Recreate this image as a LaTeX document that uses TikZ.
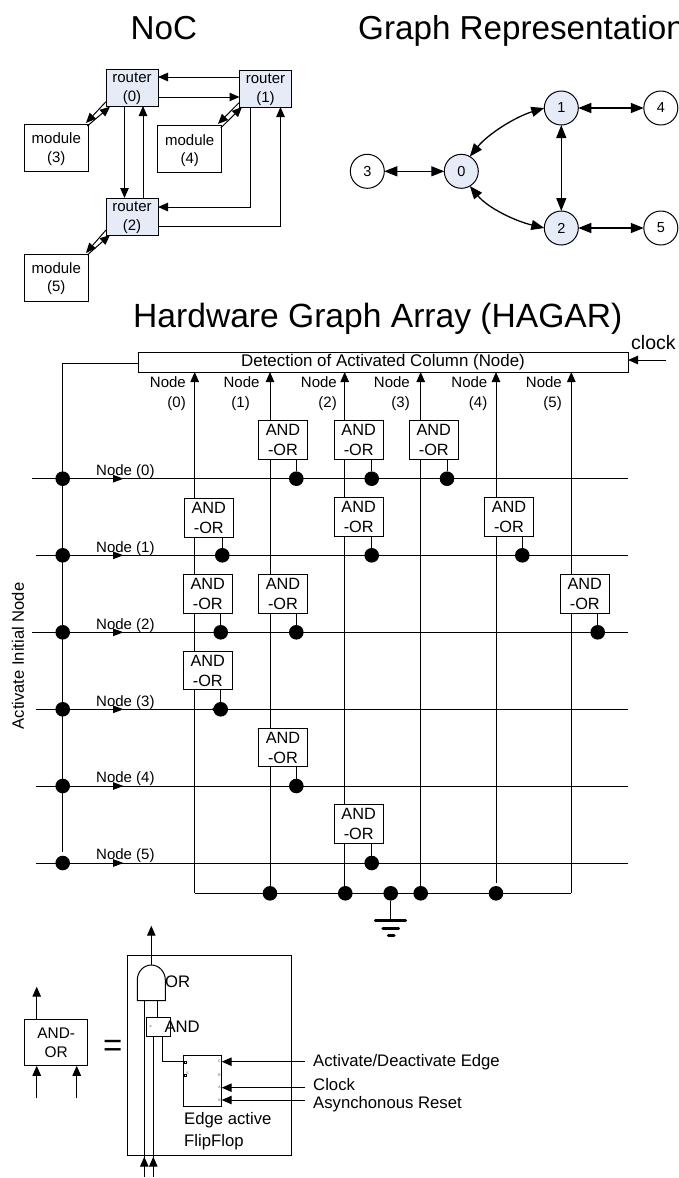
\documentclass[tikz,border=0pt]{standalone}
\usepackage{fontspec}
\setmainfont{Liberation Sans}
\usetikzlibrary{arrows.meta}
\definecolor{rfill}{HTML}{E6ECF7}
\newcommand{\fs}[1]{\fontsize{#1}{#1}\selectfont}
\tikzset{
  x=1pt,y=-1pt,
  wire/.style={line width=1pt,line cap=butt},
  arr/.style={wire,-{Triangle[length=10pt,width=8.5pt]}},
  barr/.style={wire,{Triangle[length=10pt,width=8.5pt]}-{Triangle[length=10pt,width=8.5pt]}},
  garr/.style={line width=1.3pt,{Triangle[length=13pt,width=10pt]}-{Triangle[length=13pt,width=10pt]}},
  boxn/.style={draw,line width=1pt,inner sep=0pt,outer sep=0pt,align=center},
  router/.style={boxn,fill=rfill,minimum width=52pt,minimum height=37pt,font=\fontsize{15}{18.6}\selectfont},
  module/.style={boxn,fill=white,minimum width=63.5pt,minimum height=47pt,font=\fontsize{15}{18.4}\selectfont},
  gnode/.style={draw,circle,line width=1pt,inner sep=0pt,outer sep=0pt,minimum size=34pt,font=\fs{14.5}},
  gblue/.style={gnode,fill=rfill},
  aobox/.style={boxn,fill=white,minimum width=49pt,minimum height=38.5pt,font=\fontsize{16.3}{20}\selectfont},
  jdot/.style={circle,fill=black,inner sep=0pt,outer sep=0pt,minimum size=14.6pt},
  title/.style={anchor=base west,inner sep=0pt,font=\fs{33.2}},
  lab/.style={inner sep=0pt,font=\fs{15}},
  leg/.style={inner sep=0pt,font=\fs{16.7}},
  tinyl/.style={inner sep=0pt,text=black!70,font=\fs{3.5}},
}
\begin{document}
\begin{tikzpicture}
\useasboundingbox (0,0) rectangle (678,1178);
% titles
\node[title] (tnoc) at (130.5,39) {NoC};
\node[title] (tgraph) at (358,39) {Graph Representation};
\node[title,font=\fs{33.6}] (thw) at (133,327.3) {Hardware Graph Array (HAGAR)};
% NoC
\node[router] (r0) at (132,87.5) {};
\node[router] (r1) at (265.5,88.5) {};
\node[router] (r2) at (132,216.5) {};
\node[module] (m3) at (56.3,147.7) {};
\node[module] (m4) at (189.7,149.3) {};
\node[module] (m5) at (56.3,277.5) {};
\node[lab,align=center,font=\fontsize{15}{18.6}\selectfont] (r0t) at (132,89) {router\\(0)};
\node[lab,align=center,font=\fontsize{15}{18.6}\selectfont] (r1t) at (265.5,90) {router\\(1)};
\node[lab,align=center,font=\fontsize{15}{18.6}\selectfont] (r2t) at (132,218) {router\\(2)};
\node[lab,align=center,font=\fontsize{15}{18.4}\selectfont] (m3t) at (56.3,149) {module\\(3)};
\node[lab,align=center,font=\fontsize{15}{18.4}\selectfont] (m4t) at (189.7,150.6) {module\\(4)};
\node[lab,align=center,font=\fontsize{15}{18.4}\selectfont] (m5t) at (56.3,278.8) {module\\(5)};
\draw[arr] (r1.west |- 0,77) -- (r0.east |- 0,77);
\draw[arr] (r0.east |- 0,97) -- (r1.west |- 0,97);
\draw[arr] (124.5,0 |- r0.south) -- (124.5,0 |- r2.north);
\draw[arr] (143,0 |- r2.north) -- (143,0 |- r0.south);
\draw[arr] (250.5,0 |- r1.south) |- (r2.east |- 0,207);
\draw[arr] (r2.east |- 0,226) -| (280.5,0 |- r1.south);
\coordinate (a03) at (106,101.7); \coordinate (a30) at (86,123);
\coordinate (b30) at (87.3,126); \coordinate (b03) at (110,106.7);
\draw[arr] (a03) -- (a30); \draw[arr] (b30) -- (b03);
\coordinate (a14) at (239,102.7); \coordinate (a41) at (218,124);
\coordinate (b41) at (220.7,128); \coordinate (b14) at (242,107);
\draw[arr] (a14) -- (a41); \draw[arr] (b41) -- (b14);
\coordinate (a25) at (106,230); \coordinate (a52) at (86,253);
\coordinate (b52) at (87.3,255); \coordinate (b25) at (110,235);
\draw[arr] (a25) -- (a52); \draw[arr] (b52) -- (b25);
% graph
\node[gblue] (n0) at (461.3,171.3) {0};
\node[gblue] (n1) at (561.3,108) {1};
\node[gblue] (n2) at (561.3,228) {2};
\node[gnode] (n3) at (367.3,171.3) {3};
\node[gnode] (n4) at (660.8,108) {4};
\node[gnode] (n5) at (660.8,228) {5};
\draw[garr] (n3) -- (n0);
\draw[garr] (n1) -- (n4);
\draw[garr] (n2) -- (n5);
\draw[garr] (n1) -- (n2);
\draw[garr] (n1.180) .. controls (515,117) and (488,134) .. (n0.60);
\draw[garr] (n2.180) .. controls (515,221) and (488,208) .. (n0.-60);
% detection block
\node[boxn,fill=white,minimum width=490pt,minimum height=20pt,font=\fs{16.9}] (det) at (383,362) {Detection of Activated Column (Node)};
\node[inner sep=0pt,anchor=west,font=\fs{19.5}] (clk) at (631,342.5) {clock};
\coordinate (clks) at (666.3,360);
\draw[arr] (clks) -- (det.east |- clks);
% horizontal wires
\foreach \k/\yy/\xs in {0/478.7/32,1/555.3/36,2/632.3/32,3/709.3/36,4/786/36,5/863/36}{
  \coordinate (hl\k) at (\xs,\yy);
  \coordinate (hm\k) at (123.5,\yy);
  \coordinate (hr\k) at (628,\yy);
  \draw[wire] (hl\k) -- (hr\k);
  \draw[wire,-{Triangle[length=10.5pt,width=7.5pt]}] (hl\k) -- (hm\k);
}
\foreach \k/\yy in {0/475.4,1/552.4,2/629.4,3/706.7,4/782.4,5/859.4}{
  \node[lab,anchor=base west] (hn\k) at (96,\yy) {Node (\k)};
}
% columns
\foreach \k/\xx in {0/194.7,1/270,2/344.7,3/420.7,4/496,5/571.3}{
  \coordinate (cb\k) at (\xx,893.3);
  \coordinate (ce\k) at (\xx,893.3);
}
\coordinate (ce4) at (496,882.7);
\foreach \k in {0,1,2,3,4,5}{ \draw[arr] (ce\k) -- (ce\k |- det.south); }
\draw[wire] (cb0) -- (cb5);
\foreach \k/\xn/\xp in {0/186/186,1/259.7/250,2/337/337,3/410/410,4/487.5/487.5,5/562/562}{
  \node[lab,anchor=base east] (cn\k) at (\xn,387) {Node};
  \node[lab,anchor=base east] (cp\k) at (\xp,407) {(\k)};
}
% activate column
\node[jdot] (v0) at (62.7,478.7) {};
\node[jdot] (v1) at (62.7,555.3) {};
\node[jdot] (v2) at (62.7,632.3) {};
\node[jdot] (v3) at (62.7,709.3) {};
\node[jdot] (v4) at (62.7,786) {};
\node[jdot] (v5) at (62.7,863) {};
\coordinate (vend) at (62.7,852);
\draw[wire] (det.west |- 0,363.5) -| (vend);
\node[inner sep=0pt,rotate=90,font=\fs{16.6}] (act) at (18,656) {Activate Initial Node};
% bottom joints and ground
\node[jdot] (j1) at (270,893.3) {};
\node[jdot] (j2) at (345.3,893.3) {};
\node[jdot] (jg) at (390.7,893.3) {};
\node[jdot] (j3) at (420.7,893.3) {};
\node[jdot] (j4) at (496,893.3) {};
\coordinate (g1) at (390.7,920.7);
\draw[wire,line width=1.1pt] (jg) -- (g1);
\draw[line width=3.4pt,line cap=round] (375.5,920.7) -- (405.5,920.7);
\draw[line width=3.4pt,line cap=round] (383,928.3) -- (398.5,928.3);
\draw[line width=3.4pt,line cap=round] (388.5,935.7) -- (394,935.7);
% AND-OR cells
\foreach \nm/\bx/\by/\dx/\dy in {
  a/283/440.2/296.3/478.7, b/358.7/440.2/371.7/478.7, c/433.8/440.2/447/478.7,
  d/208.8/518/222.3/555.3, e/358.7/517/371.7/555.3, f/509/517/522.3/555.3,
  g/207.8/594/220.7/632.3, h/283/594/296.3/632.3, i/584.8/594/597.7/632.3,
  j/207.8/670.7/220.7/709.3, k/283/747.5/296.3/786, l/358.7/824/371.7/863}{
  \node[aobox] (bx\nm) at (\bx,\by) {AND\\-OR};
  \node[jdot] (dt\nm) at (\dx,\dy) {};
  \draw[wire] (bx\nm.south -| dt\nm) -- (dt\nm);
}
\fill (211.5,709.3) -- (216,706) -- (216,712.6) -- cycle;
% legend left
\node[boxn,minimum width=63pt,minimum height=46.7pt,font=\fontsize{15.4}{19}\selectfont] (leg) at (56.2,1042.4) {AND-\\OR};
\coordinate (lo) at (36.7,986.7);
\coordinate (li1) at (36.7,1098.3);
\coordinate (li2) at (76.7,1098.3);
\draw[arr] (lo |- leg.north) -- (lo);
\draw[arr] (li1) -- (li1 |- leg.south);
\draw[arr] (li2) -- (li2 |- leg.south);
\node[inner sep=0pt,font=\fs{33}] (eq) at (112.7,1048) {=};
% legend big box
\node[boxn,minimum width=164pt,minimum height=200pt] (big) at (209.3,1055.7) {};
\coordinate (gtop) at (151.3,965);
\coordinate (gbl) at (137.3,1000.7);
\coordinate (gbr) at (165.3,1000.7);
\coordinate (gout) at (151.3,925.7);
\draw[wire,fill=white] (gbl) -- (137.3,980) .. controls (137.3,971.7) and (143.6,965) .. (gtop) .. controls (159,965) and (165.3,971.7) .. (165.3,980) -- (gbr) -- cycle;
\draw[arr] (gtop) -- (gout);
\node[leg,anchor=west] (orl) at (165,982) {OR};
\node[boxn,fill=white,minimum width=23.7pt,minimum height=19pt] (andb) at (158.2,1027.2) {};
\node[leg,anchor=west] (andl) at (164.3,1026.7) {AND};
\node[tinyl] (andt) at (150.7,1027) {a};
\draw[wire] (157.7,1000.7) -- (157.7,0 |- andb.north);
\node[boxn,fill=white,minimum width=38.4pt,minimum height=51pt] (ff) at (202.5,1080.8) {};
\coordinate (ffd) at (183.3,1061.7);
\draw[wire] (162.7,0 |- andb.south) |- (ffd);
\coordinate (in1) at (144.3,1176.7);
\coordinate (in2) at (153.3,1176.7);
\coordinate (in1t) at (144.3,1156.7);
\coordinate (in2t) at (153.3,1156.7);
\draw[wire] (in1) -- (144.3,1000.7);
\draw[wire] (in2) -- (153.3,0 |- andb.south);
\draw[arr] (in1) -- (in1t);
\draw[arr] (in2) -- (in2t);
% flip-flop pins
\draw[line width=0.3pt] (184.2,1060.7) rectangle (186.2,1062.7);
\draw[line width=0.3pt] (184.2,1074) rectangle (186.2,1076);
\node[tinyl] (ffq) at (187.5,1073) {S};
\node[tinyl] (ffc) at (219.5,1061.7) {C};
\node[tinyl] (ffr) at (219.5,1075.3) {R};
\node[tinyl] (ffa) at (219.5,1087.7) {A};
\node[tinyl] (ffb) at (219.5,1100) {B};
\coordinate (s1) at (305,1061.7);
\coordinate (s2) at (305,1087.7);
\coordinate (s3) at (305,1100);
\draw[arr] (s1) -- (ff.east |- s1);
\draw[arr] (s2) -- (ff.east |- s2);
\draw[arr] (s3) -- (ff.east |- s3);
\node[leg,anchor=base west] (t1) at (313,1066.7) {Activate/Deactivate Edge};
\node[leg,anchor=base west] (t2) at (313,1090) {Clock};
\node[leg,anchor=base west] (t3) at (313,1108.5) {Asynchonous Reset};
\node[leg,anchor=base west] (t4) at (184,1124) {Edge active};
\node[leg,anchor=base west] (t5) at (184,1146) {FlipFlop};
\end{tikzpicture}
\end{document}
